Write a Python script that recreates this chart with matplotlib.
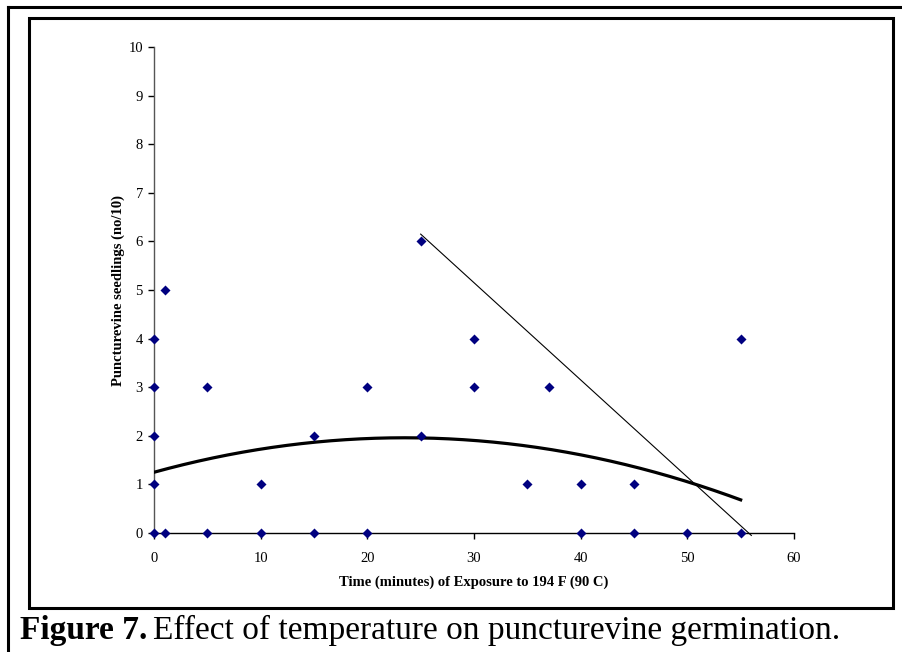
import matplotlib
matplotlib.use("Agg")
import matplotlib.pyplot as plt
from matplotlib.lines import Line2D
from matplotlib.patches import Rectangle
import numpy as np

plt.rcParams['font.family'] = ['Liberation Serif', 'DejaVu Serif']

# exposure time (minutes) and seedlings (no/10)
minutes = [0, 0, 0, 0, 0, 1, 1, 5, 5, 10, 10, 15, 15, 20, 20, 25, 25,
           30, 30, 35, 37, 40, 40, 45, 45, 50, 55, 55]
seedlings = [0, 1, 2, 3, 4, 0, 5, 0, 3, 0, 1, 0, 2, 0, 3, 2, 6,
             3, 4, 1, 3, 0, 1, 0, 1, 0, 0, 4]

# trend lines
poly_coef = [-0.001286, 0.0604, 1.25]   # quadratic, x from 0 to 55
poly_range = [0, 55]
lin_coef = [-0.2, 11.15]                # straight line, x from 25 to 56
lin_range = [25, 56]

W, H = 902, 652
fig = plt.figure(figsize=(W / 100, H / 100), dpi=100)
fig.patch.set_facecolor('white')


def px(x, y):
    return x / W, 1 - y / H


# outer frame (top + left) and inner chart box
fig.add_artist(Line2D([px(8, 0)[0], px(8, 0)[0]], [px(0, 6.5)[1], 0],
                      transform=fig.transFigure, color='black', lw=2.2))
fig.add_artist(Line2D([px(8, 0)[0], 1], [px(0, 6.5)[1], px(0, 6.5)[1]],
                      transform=fig.transFigure, color='black', lw=2.2))
x0, y0 = px(29, 608)
x1, y1 = px(893, 17.5)
fig.add_artist(Rectangle((x0, y0), x1 - x0, y1 - y0, transform=fig.transFigure,
                         fill=False, edgecolor='black', lw=2.2))

l, b = px(154, 533)
r, t = px(794, 47)
ax = fig.add_axes([l, b, r - l, t - b])
ax.set_xlim(0, 60)
ax.set_ylim(0, 10)
ax.set_xticks(range(0, 61, 10))
ax.set_yticks(range(0, 11))
for s in ['top', 'right']:
    ax.spines[s].set_visible(False)
ax.spines['left'].set_color('#555555')
ax.spines['bottom'].set_color('black')
for s in ['left', 'bottom']:
    ax.spines[s].set_linewidth(1.0)
ax.tick_params(direction='out', length=4, width=1, labelsize=10.5,
               colors='black')
ax.tick_params(axis='x', pad=10)
ax.tick_params(axis='y', pad=4)

xs = np.linspace(poly_range[0], poly_range[1], 200)
ax.plot(xs, np.polyval(poly_coef, xs), color='black', lw=2.3, zorder=3)
xl = np.array(lin_range)
ax.plot(xl, np.polyval(lin_coef, xl), color='black', lw=0.8, zorder=3,
        clip_on=False)

ax.scatter(minutes, seedlings, marker='D', s=26, color='#000080',
           zorder=4, clip_on=False, linewidths=0)

ax.set_xlabel('Time (minutes) of Exposure to 194 F (90 C)', fontsize=10.5,
              fontweight='bold', labelpad=7)
ax.set_ylabel('Puncturevine seedlings (no/10)', fontsize=10.5,
              fontweight='bold', labelpad=2)

fig.text(px(20, 0)[0], px(0, 639)[1], 'Figure 7.', fontsize=24,
         fontweight='bold', va='baseline', ha='left')
fig.text(px(153, 0)[0], px(0, 639)[1], 'Effect of temperature on puncturevine germination.',
         fontsize=24, va='baseline', ha='left')

fig.savefig('out.png', dpi=100, facecolor='white')
